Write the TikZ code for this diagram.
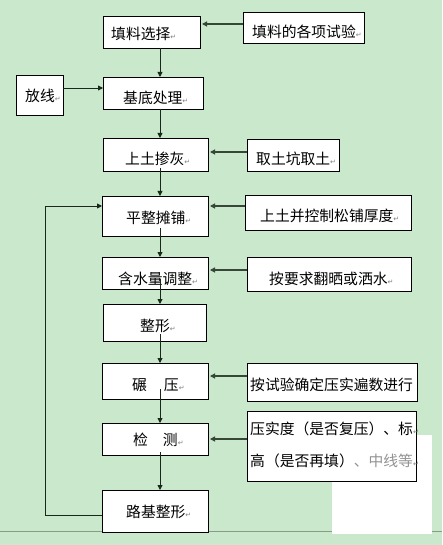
\documentclass[tikz,border=0pt]{standalone}
\usepackage{fontspec}
\newfontfamily\cjk{Noto Sans CJK SC}
\newfontfamily\symf{DejaVu Sans}
\usetikzlibrary{arrows.meta}
\definecolor{bg}{RGB}{201,232,204}
\definecolor{ln}{RGB}{25,40,25}
\definecolor{sd}{RGB}{55,70,55}
\definecolor{rule}{RGB}{135,155,135}
\newcommand\retmark{{\symf\fontsize{7}{7}\selectfont\textcolor{gray}{↵}}}
\begin{document}
\begin{tikzpicture}[x=1pt,y=-1pt,
 box/.style={draw=black,fill=white,line width=0.8pt,inner sep=0pt,outer sep=0pt,anchor=north west},
 txt/.style={anchor=base west,inner sep=0pt,font=\cjk\fontsize{14.8}{18}\selectfont},
 conn/.style={draw=ln,line width=0.9pt,-{Triangle[length=5pt,width=5pt]}},
 side/.style={draw=sd,line width=1.1pt,-{Triangle[length=5pt,width=5pt]},shorten >=2pt}]
\useasboundingbox (0,0) rectangle (442,545);
\fill[bg] (0,0) rectangle (442,545);
\draw[rule,line width=0.8pt] (0,531) -- (442,531);
\fill[white] (332,435) rectangle (432,534);
% boxes
\node[box,minimum width=97pt,minimum height=32pt] (b1) at (103,16) {};
\node[box,minimum width=121pt,minimum height=31pt] (i1) at (243,12) {};
\node[box,minimum width=47pt,minimum height=40pt] (fx) at (16,75) {};
\node[box,minimum width=100pt,minimum height=32pt] (b2) at (103,77) {};
\node[box,minimum width=105pt,minimum height=33pt] (b3) at (103,138) {};
\node[box,minimum width=92pt,minimum height=32pt] (i3) at (247,139) {};
\node[box,minimum width=106pt,minimum height=40pt] (b4) at (102,196) {};
\node[box,minimum width=166pt,minimum height=35pt] (i4) at (245,195) {};
\node[box,minimum width=106pt,minimum height=32pt] (b5) at (102,257) {};
\node[box,minimum width=164pt,minimum height=34pt] (i5) at (247,257) {};
\node[box,minimum width=103pt,minimum height=37pt] (b6) at (103,304) {};
\node[box,minimum width=106pt,minimum height=36pt] (b7) at (102,363) {};
\node[box,minimum width=170pt,minimum height=38pt] (i7) at (247,363) {};
\node[box,minimum width=106pt,minimum height=32pt] (b8) at (102,423) {};
\node[box,minimum width=169pt,minimum height=70pt] (i8) at (247,411) {};
\node[box,minimum width=106pt,minimum height=42pt] (b9) at (102,490) {};
% texts
\node[txt] (t1) at (111,40) {填料选择\retmark};
\node[txt] (ti1) at (252,38) {填料的各项试验\retmark};
\node[txt] (tfx) at (25,102) {放线\retmark};
\node[txt] (t2) at (123,104) {基底处理\retmark};
\node[txt] (t3) at (125,165) {上土掺灰\retmark};
\node[txt] (ti3) at (256,165) {取土坑取土\retmark};
\node[txt] (t4) at (126,223) {平整摊铺\retmark};
\node[txt] (ti4) at (260,221) {上土并控制松铺厚度\retmark};
\node[txt] (t5) at (118,284) {含水量调整\retmark};
\node[txt] (ti5) at (269,284) {按要求翻晒或洒水\retmark};
\node[txt] (t6) at (140,331) {整形\retmark};
\node[txt] (t7) at (132,390) {碾\hspace{17pt}压\retmark};
\node[txt] (ti7) at (250,390) {按试验确定压实遍数进行};
\node[txt] (t8) at (133,445) {检\hspace{15pt}测\retmark};
\node[txt] (ti8a) at (250,434) {压实度（是否复压）、标\retmark};
\node[txt] (ti8b) at (250,466) {高（是否再填）\textcolor{gray!85}{、中线等}\retmark};
\node[txt] (t9) at (126,517) {路基整形\retmark};
% connectors
\coordinate (col) at (160,0);
\coordinate (lx) at (45,0);
\draw[conn] (b1.south -| col) -- (b2.north -| col);
\draw[conn] (b2.south -| col) -- (b3.north -| col);
\draw[conn] ([yshift=3pt]b3.south -| col) -- (b4.north -| col);
\draw[conn] ([yshift=8pt]b4.south -| col) -- (b5.north -| col);
\draw[conn] ([yshift=10pt]b5.south -| col) -- (b6.north -| col);
\draw[conn] ([yshift=7pt]b6.south -| col) -- (b7.north -| col);
\draw[conn] ([yshift=10pt]b7.south -| col) -- (b8.north -| col);
\draw[conn] ([yshift=3pt]b8.south -| col) -- (b9.north -| col);
\draw[side] ([yshift=8pt]b1.east -| i1.west) -- ([yshift=8pt]b1.east);
\draw[conn] ([yshift=5pt]b2.west -| fx.east) -- ([yshift=5pt]b2.west);
\draw[side] ([yshift=2.5pt]b3.east -| i3.west) -- ([yshift=2.5pt]b3.east);
\draw[side] ([yshift=10pt]b4.east -| i4.west) -- ([yshift=10pt]b4.east);
\draw[side] ([yshift=3pt]b5.east -| i5.west) -- ([yshift=3pt]b5.east);
\draw[side] ([yshift=5pt]b7.east -| i7.west) -- ([yshift=5pt]b7.east);
\draw[side] (b8.east -| i8.west) -- (b8.east);
\draw[conn] ([yshift=-4pt]b9.west) -- ([yshift=-4pt]b9.west -| lx)
  -- ([yshift=10pt]b4.west -| lx) -- ([yshift=10pt]b4.west);
\end{tikzpicture}
\end{document}
